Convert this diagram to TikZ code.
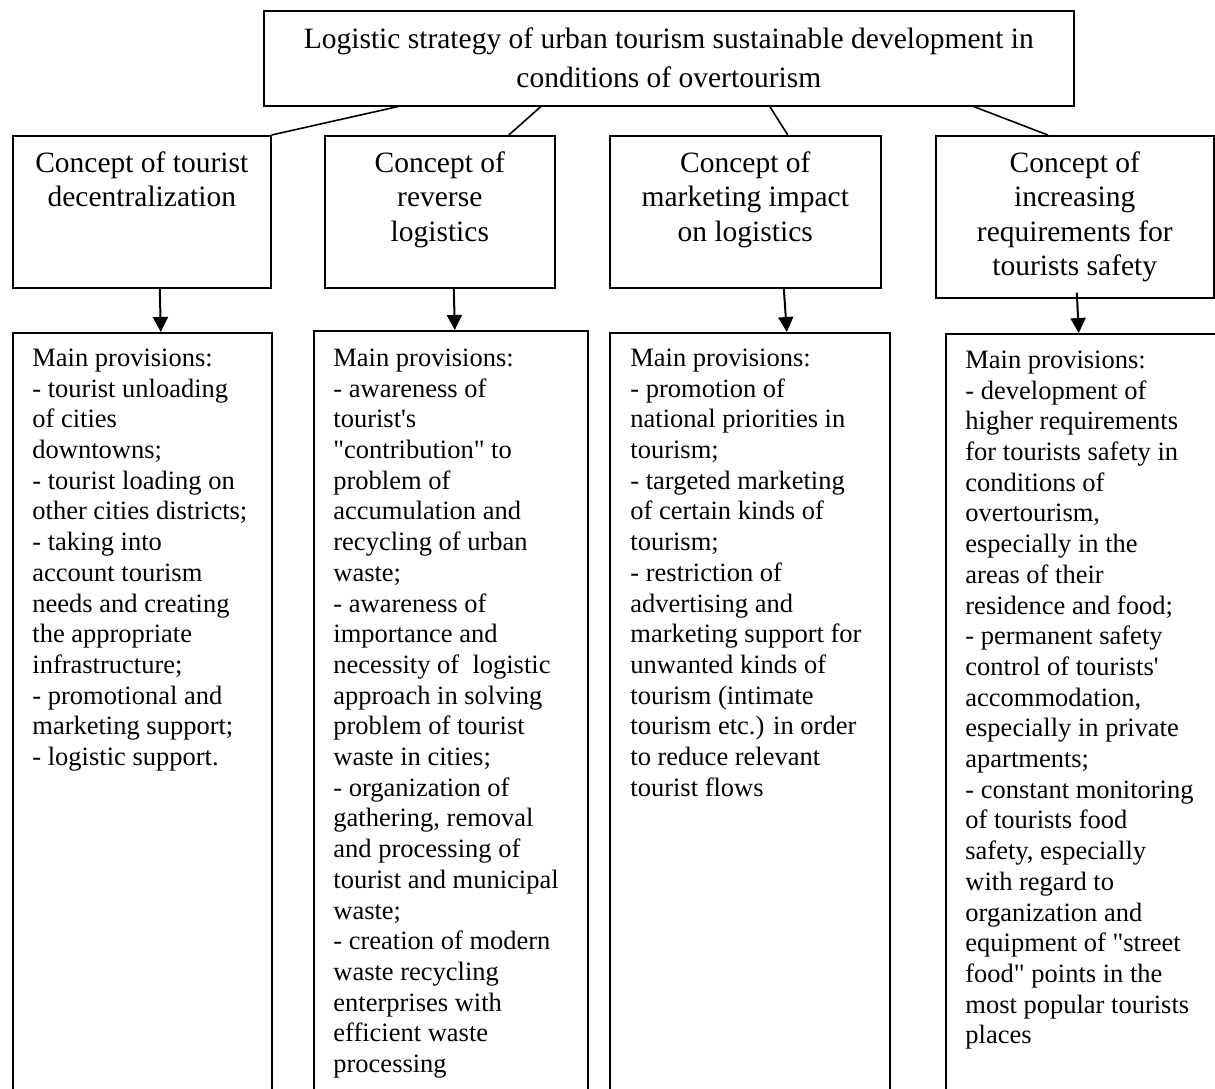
\documentclass[tikz,border=0pt]{standalone}
\usepackage{fontspec}
\setmainfont{Liberation Serif}
\usetikzlibrary{arrows.meta}
\newcommand{\dq}{\textquotedbl}
\newcommand{\sq}{\textquotesingle}
\begin{document}
\begin{tikzpicture}[x=0.5pt,y=-0.5pt,
  frame/.style={draw, line width=0.8pt, rectangle, inner sep=0pt, anchor=north west},
  titletext/.style={inner sep=0pt, anchor=north, align=center, font=\fontsize{14.75pt}{19.5pt}\selectfont},
  headtext/.style={inner sep=0pt, anchor=north, align=center, font=\fontsize{14.75pt}{17.15pt}\selectfont},
  bodytext/.style={inner sep=0pt, anchor=north west, align=left, font=\fontsize{13.25pt}{15.35pt}\selectfont},
  link/.style={line width=0.8pt},
  flow/.style={line width=1pt, -{Triangle[length=7.5pt,width=7.5pt]}}]
\clip (0,0) rectangle (1215,1088);
\fill[white] (0,0) rectangle (1215,1088);

% strategy box
\node[frame, minimum width=405pt, minimum height=47.5pt] (T) at (263,10) {};
\node[titletext] (Tt) at ([yshift=-5.35pt]T.north)
  {\strut Logistic strategy of urban tourism sustainable development in\\
   conditions of overtourism};

% concept boxes
\node[frame, minimum width=129pt, minimum height=76pt] (c1) at (12,135) {};
\node[frame, minimum width=115pt, minimum height=76pt] (c2) at (324,135) {};
\node[frame, minimum width=135.5pt, minimum height=76pt] (c3) at (609,135) {};
\node[frame, minimum width=139pt, minimum height=81pt] (c4) at (935,135) {};

\node[headtext] (c1t) at ([yshift=-6.5pt]c1.north)
  {\strut Concept of tourist\\ decentralization};
\node[headtext] (c2t) at ([yshift=-6.5pt]c2.north)
  {\strut Concept of\\ reverse\\ logistics};
\node[headtext] (c3t) at ([yshift=-6.5pt]c3.north)
  {\strut Concept of\\ marketing impact\\ on logistics};
\node[headtext] (c4t) at ([yshift=-6.5pt]c4.north)
  {\strut Concept of\\ increasing\\ requirements for\\ tourists safety};

% provision boxes (they run on below the lower edge)
\node[frame, minimum width=129.5pt, minimum height=384pt] (p1) at (12,332) {};
\node[frame, minimum width=137pt, minimum height=385pt] (p2) at (313,330) {};
\node[frame, minimum width=140pt, minimum height=384pt] (p3) at (609,332) {};
\node[frame, minimum width=140pt, minimum height=384pt] (p4) at (945,333) {};

\node[bodytext] (p1t) at ([xshift=10pt,yshift=-6.25pt]p1.north west)
  {\strut Main provisions:\\
   - tourist unloading\\
   of cities\\
   downtowns;\\
   - tourist loading on\\
   other cities districts;\\
   - taking into\\
   account tourism\\
   needs and creating\\
   the appropriate\\
   infrastructure;\\
   - promotional and\\
   marketing support;\\
   - logistic support.};

\node[bodytext] (p2t) at ([xshift=10pt,yshift=-7.25pt]p2.north west)
  {\strut Main provisions:\\
   - awareness of\\
   tourist\sq s\\
   \dq contribution\dq\ to\\
   problem of\\
   accumulation and\\
   recycling of urban\\
   waste;\\
   - awareness of\\
   importance and\\
   necessity of\ \ logistic\\
   approach in solving\\
   problem of tourist\\
   waste in cities;\\
   - organization of\\
   gathering, removal\\
   and processing of\\
   tourist and municipal\\
   waste;\\
   - creation of modern\\
   waste recycling\\
   enterprises with\\
   efficient waste\\
   processing};

\node[bodytext] (p3t) at ([xshift=10.5pt,yshift=-6.25pt]p3.north west)
  {\strut Main provisions:\\
   - promotion of\\
   national priorities in\\
   tourism;\\
   - targeted marketing\\
   of certain kinds of\\
   tourism;\\
   - restriction of\\
   advertising and\\
   marketing support for\\
   unwanted kinds of\\
   tourism (intimate\\
   tourism etc.) in order\\
   to reduce relevant\\
   tourist flows};

\node[bodytext] (p4t) at ([xshift=10pt,yshift=-6.75pt]p4.north west)
  {\strut Main provisions:\\
   - development of\\
   higher requirements\\
   for tourists safety in\\
   conditions of\\
   overtourism,\\
   especially in the\\
   areas of their\\
   residence and food;\\
   - permanent safety\\
   control of tourists\sq\\
   accommodation,\\
   especially in private\\
   apartments;\\
   - constant monitoring\\
   of tourists food\\
   safety, especially\\
   with regard to\\
   organization and\\
   equipment of \dq street\\
   food\dq\ points in the\\
   most popular tourists\\
   places};

% links from the strategy to the concepts
\draw[link] ([xshift=-135.5pt]T.south) -- (c1.north east);
\draw[link] ([xshift=-64pt]T.south) -- ([xshift=34.5pt]c2.north);
\draw[link] ([xshift=50.5pt]T.south) -- ([xshift=21.25pt]c3.north);
\draw[link] ([xshift=152.5pt]T.south) -- ([xshift=-13.5pt]c4.north);

% arrows from each concept to its provisions
\draw[flow] ([xshift=9pt]c1.south) -- ([xshift=9.25pt]p1.north);
\draw[flow] ([xshift=7pt]c2.south) -- ([xshift=2pt]p2.north);
\draw[flow] ([xshift=19.25pt]c3.south) -- ([xshift=18.5pt]p3.north);
\draw[flow] ([xshift=1pt,yshift=3pt]c4.south) -- ([xshift=-3.5pt]p4.north);
\end{tikzpicture}
\end{document}
